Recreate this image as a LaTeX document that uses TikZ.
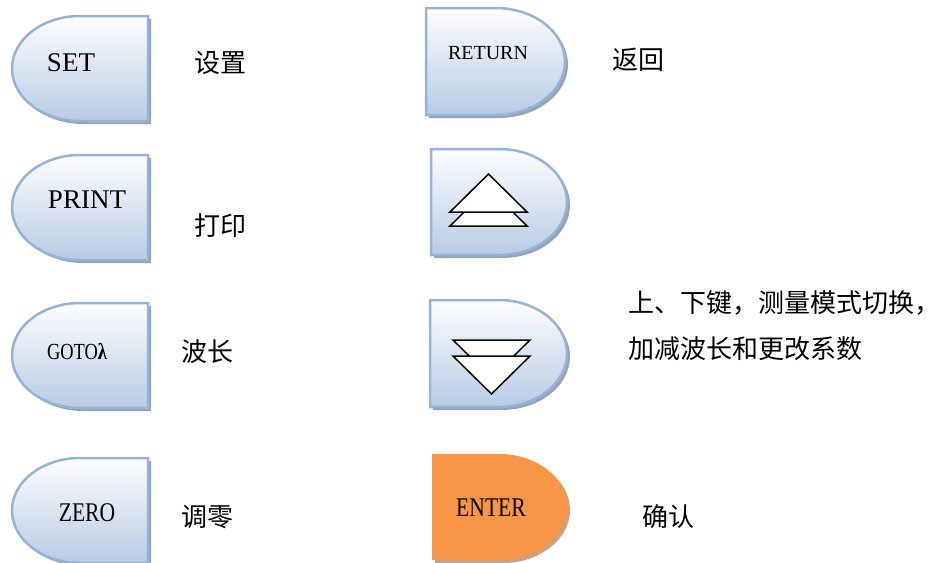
\documentclass[tikz,border=0pt]{standalone}
\usepackage{fontspec}
\setmainfont{Liberation Serif}
\newfontfamily\narrowf[FakeStretch=0.8]{Liberation Serif}
\newfontfamily\cjk{Noto Sans CJK SC}
\definecolor{btntop}{HTML}{FDFEFF}
\definecolor{btnbot}{HTML}{B7CBE4}
\definecolor{btnline}{HTML}{95B3D7}
\definecolor{btnshadowc}{HTML}{95A2B8}
\definecolor{enterfill}{HTML}{F79646}
\definecolor{entershadowc}{HTML}{C9A184}
\tikzset{
  bluebtn/.style={top color=btntop, bottom color=btnbot, draw=btnline, line width=2.5pt},
  bluebtnshadow/.style={fill=btnshadowc},
  orangebtn/.style={fill=enterfill},
  orangebtnshadow/.style={fill=entershadowc},
  tri/.style={fill=white, draw=black, line width=1.5pt, line join=miter},
  lbl/.style={font=\cjk\fontsize{26}{30}\selectfont, inner sep=0pt},
  keytxt/.style={inner sep=0pt},
}
% left-rounded button: L R T B style
\newcommand{\btnL}[5]{%
  \pgfmathsetmacro{\rx}{(#2-#1)/2}%
  \pgfmathsetmacro{\ry}{(#4-#3)/2}%
  \pgfmathsetmacro{\mx}{#1+\rx}%
  \path[#5shadow, xshift=3pt, yshift=-3pt] (#2,#3) -- (\mx,#3) arc[start angle=270, end angle=90, x radius=\rx, y radius=\ry] -- (#2,#4) -- cycle;
  \path[#5] (#2,#3) -- (\mx,#3) arc[start angle=270, end angle=90, x radius=\rx, y radius=\ry] -- (#2,#4) -- cycle;
}
% right-rounded button
\newcommand{\btnR}[5]{%
  \pgfmathsetmacro{\rx}{(#2-#1)/2}%
  \pgfmathsetmacro{\ry}{(#4-#3)/2}%
  \pgfmathsetmacro{\mx}{#2-\rx}%
  \path[#5shadow, xshift=3pt, yshift=-3pt] (#1,#3) -- (\mx,#3) arc[start angle=270, end angle=450, x radius=\rx, y radius=\ry] -- (#1,#4) -- cycle;
  \path[#5] (#1,#3) -- (\mx,#3) arc[start angle=270, end angle=450, x radius=\rx, y radius=\ry] -- (#1,#4) -- cycle;
}
\begin{document}
\begin{tikzpicture}[x=1pt, y=-1pt]
\useasboundingbox (0,0) rectangle (950,562);
\clip (0,0) rectangle (950,562);
% left column
\btnL{12}{148}{16}{121}{bluebtn}
\btnL{12}{148}{155}{260}{bluebtn}
\btnL{12}{148}{303}{408}{bluebtn}
\btnL{12}{148}{458}{563}{bluebtn}
\node[keytxt, font=\fontsize{27}{30}\selectfont] (kset) at (71,63) {SET};
\node[keytxt, font=\fontsize{27}{30}\selectfont] (kprint) at (87,200) {PRINT};
\node[keytxt, font=\narrowf\fontsize{23}{28}\selectfont] (kgoto) at (77,352) {GOTO{\bfseries λ}};
\node[keytxt, font=\narrowf\fontsize{27}{30}\selectfont] (kzero) at (87,513) {ZERO};
\node[lbl] (lset) at (220,63) {设置};
\node[lbl] (lprint) at (220,226) {打印};
\node[lbl] (lgoto) at (207,352) {波长};
\node[lbl] (lzero) at (207,517) {调零};
% right column
\btnR{426}{565}{8}{115}{bluebtn}
\btnR{431}{567}{149}{255}{bluebtn}
\btnR{430}{567}{300}{407}{bluebtn}
\btnR{432}{567}{454}{560}{orangebtn}
\node[keytxt, font=\fontsize{20}{24}\selectfont] (kret) at (488,53) {RETURN};
\node[keytxt, font=\narrowf\fontsize{27}{30}\selectfont] (kenter) at (491,508) {ENTER};
\node[lbl] (lret) at (638,60) {返回};
\node[lbl] (lenter) at (668,517) {确认};
\node[lbl, anchor=west, align=left, font=\cjk\fontsize{26}{46}\selectfont] (lud) at (628,326) {上、下键，测量模式切换，\\加减波长和更改系数};
% up triangles
\draw[tri] (450,226) -- (527,226) -- (488.5,188) -- cycle;
\draw[tri] (450,212) -- (527,212) -- (488.5,174) -- cycle;
% down triangles
\draw[tri] (453,340) -- (530,340) -- (491.5,378) -- cycle;
\draw[tri] (453,356) -- (530,356) -- (491.5,394) -- cycle;
\end{tikzpicture}
\end{document}
